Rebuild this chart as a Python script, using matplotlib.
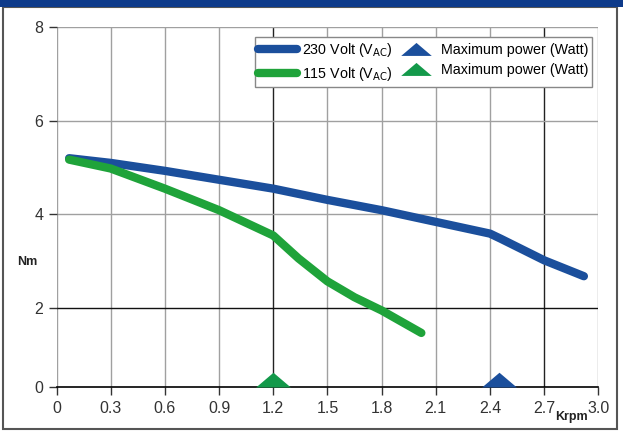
import numpy as np
import matplotlib
matplotlib.use('Agg')
import matplotlib.pyplot as plt
from matplotlib.patches import Rectangle

plt.rcParams['font.family'] = ['Liberation Sans', 'DejaVu Sans']

# ---- data ----
rpm230 = [0.07, 0.3, 0.6, 0.9, 1.2, 1.5, 1.8, 2.1, 2.4, 2.46, 2.7, 2.92]
nm230 = [5.20, 5.10, 4.93, 4.74, 4.55, 4.31, 4.09, 3.84, 3.59, 3.48, 3.02, 2.68]

rpm115 = [0.07, 0.3, 0.6, 0.9, 1.2, 1.34, 1.5, 1.65, 1.8, 2.02]
nm115 = [5.17, 4.98, 4.55, 4.09, 3.55, 3.06, 2.57, 2.23, 1.94, 1.37]

maxpow230 = 2.45
maxpow115 = 1.2

xticks = [0, 0.3, 0.6, 0.9, 1.2, 1.5, 1.8, 2.1, 2.4, 2.7, 3.0]
xticklabels = ['0', '0.3', '0.6', '0.9', '1.2', '1.5', '1.8', '2.1', '2.4', '2.7', '3.0']
yticks = [0, 2, 4, 6, 8]

blue = '#1b4f9c'
green = '#1fa33a'
green_tri = '#13994a'

# the 0-2 band is drawn a bit narrower than the others
yk = [-10, 0, 2, 8, 20]
yv = [-10 * 0.843 + 0.314, 0.314, 2, 8, 20]
def fwd(y):
    return np.interp(y, yk, yv)
def inv(v):
    return np.interp(v, yv, yk)

fig = plt.figure(figsize=(6.23, 4.37), dpi=100)
ax = fig.add_axes([0.0907, 0.1144, 0.8697, 0.8236])
ax.set_yscale('function', functions=(fwd, inv))

# grid lines
for x in xticks:
    c = '#222222' if x in (1.2, 2.7) else '#a0a0a0'
    ax.axvline(x, color=c, lw=1.0, zorder=1)
for y in [2, 4, 6, 8]:
    c = '#111111' if y == 2 else '#a0a0a0'
    ax.axhline(y, color=c, lw=1.0, zorder=1)

l230, = ax.plot(rpm230, nm230, color=blue, lw=6, solid_capstyle='round', zorder=3)
l115, = ax.plot(rpm115, nm115, color=green, lw=6, solid_capstyle='round', zorder=3)

tri = [(-1, 0), (1, 0), (0, 0.85), (-1, 0)]
t230, = ax.plot([maxpow230], [0], ls='none', marker=tri, ms=25, color=blue,
                mec='none', clip_on=False, zorder=4)
t115, = ax.plot([maxpow115], [0], ls='none', marker=tri, ms=25, color=green_tri,
                mec='none', clip_on=False, zorder=4)

ax.set_xlim(0, 3.0)
ax.set_ylim(0, 8)
ax.set_xticks(xticks)
ax.set_xticklabels(xticklabels)
ax.set_yticks(yticks)
ax.tick_params(axis='both', labelsize=11.5, colors='#333333', length=6, width=1)
ax.tick_params(axis='x', pad=4)
for s in ['top', 'right', 'left']:
    ax.spines[s].set_visible(False)
ax.spines['bottom'].set_color('black')
ax.spines['bottom'].set_linewidth(1.2)
ax.spines['bottom'].set_zorder(2)

ax.text(-0.035, 0.347, 'Nm', transform=ax.transAxes, ha='right', va='center',
        fontsize=9, fontweight='bold', color='#222222')
ax.text(0.951, -0.082, 'Krpm', transform=ax.transAxes, ha='center', va='center',
        fontsize=9, fontweight='bold', color='#222222')

leg_tri = [(-1, -0.42), (1, -0.42), (0, 0.43), (-1, -0.42)]
leg_tri_b = plt.Line2D([], [], ls='none', marker=leg_tri, ms=22, color=blue, mec='none')
leg_tri_g = plt.Line2D([], [], ls='none', marker=leg_tri, ms=22, color=green_tri, mec='none')
leg = ax.legend([l230, l115, leg_tri_b, leg_tri_g],
                ['230 Volt (V$_{\\mathrm{AC}}$)', '115 Volt (V$_{\\mathrm{AC}}$)',
                 'Maximum power (Watt)', 'Maximum power (Watt)'],
                ncol=2, loc='upper right', bbox_to_anchor=(0.988, 0.972),
                borderaxespad=0, fontsize=10.3, frameon=True, fancybox=False,
                framealpha=1, edgecolor='#888888', handlelength=2.7,
                handletextpad=0.35, columnspacing=0.3, labelspacing=0.45,
                borderpad=0.25)
leg.get_frame().set_linewidth(1.0)
leg.set_zorder(5)

# outer frame and header band
fig.patches.append(Rectangle((0.005, 0.018), 0.985, 0.965, transform=fig.transFigure,
                             fill=False, edgecolor='#555555', lw=1.5))
fig.patches.append(Rectangle((0, 0.985), 1, 0.015, transform=fig.transFigure,
                             facecolor='#0d3a8a', edgecolor='none'))

fig.savefig('out.png', dpi=100)
